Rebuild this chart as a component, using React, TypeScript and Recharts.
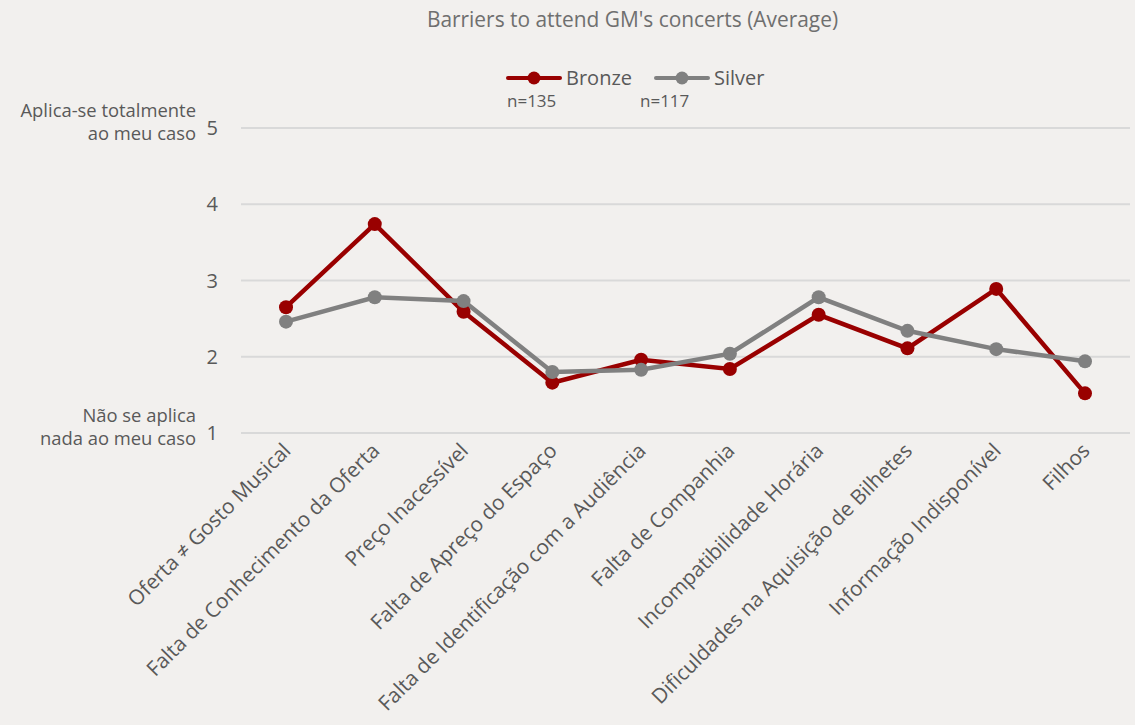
import { LineChart, Line, XAxis, YAxis, CartesianGrid } from "recharts";

const categories = [
  "Oferta ≠ Gosto Musical",
  "Falta de Conhecimento da Oferta",
  "Preço Inacessível",
  "Falta de Apreço do Espaço",
  "Falta de Identificação com a Audiência",
  "Falta de Companhia",
  "Incompatibilidade Horária",
  "Dificuldades na Aquisição de Bilhetes",
  "Informação Indisponível",
  "Filhos",
];
const bronze = [2.65, 3.74, 2.59, 1.66, 1.96, 1.84, 2.55, 2.11, 2.89, 1.52];
const silver = [2.46, 2.78, 2.73, 1.8, 1.83, 2.04, 2.78, 2.34, 2.1, 1.94];
const yTicks = [1, 2, 3, 4, 5];
const yExtra: Record<number, string[]> = {
  5: ["Aplica-se totalmente", "ao meu caso"],
  1: ["Não se aplica", "nada ao meu caso"],
};

const data = categories.map((name, i) => ({ name, bronze: bronze[i], silver: silver[i] }));

const FONT = "'Open Sans', sans-serif";
const TEXT = "#595959";
const BRONZE = "#990000";
const SILVER = "#808080";

function YTick(props: any) {
  const { x, y, payload } = props;
  const extra = yExtra[payload.value];
  return (
    <g>
      <text x={x - 15} y={y} dy={7} textAnchor="end" fill={TEXT} fontSize={20} fontFamily={FONT}>
        {payload.value}
      </text>
      {extra && (
        <text textAnchor="end" fill={TEXT} fontSize={18.4} fontFamily={FONT}>
          <tspan x={x - 37} y={y - 11}>{extra[0]}</tspan>
          <tspan x={x - 37} y={y + 12}>{extra[1]}</tspan>
        </text>
      )}
    </g>
  );
}

function XTick(props: any) {
  const { x, y, payload } = props;
  const px = x + 6;
  const py = y + 11;
  return (
    <text
      x={px}
      y={py}
      textAnchor="end"
      fill={TEXT}
      fontSize={20.7}
      fontFamily={FONT}
      transform={`rotate(-45, ${px}, ${py})`}
    >
      {payload.value}
    </text>
  );
}

function LegendMark({ color }: { color: string }) {
  return (
    <svg width={56} height={16} style={{ display: "block" }}>
      <line x1={2} y1={8} x2={54} y2={8} stroke={color} strokeWidth={4} strokeLinecap="round" />
      <circle cx={28} cy={8} r={6.5} fill={color} />
    </svg>
  );
}

export default function App() {
  return (
    <div
      style={{
        position: "absolute",
        left: 0,
        top: 0,
        width: 1135,
        height: 725,
        background: "#f2f0ee",
        fontFamily: FONT,
        color: TEXT,
      }}
    >
      <div
        style={{
          position: "absolute",
          top: 5,
          left: 0,
          width: 1265,
          textAlign: "center",
          fontSize: 20.9,
          color: "#6f6f6f",
        }}
      >
        Barriers to attend GM's concerts (Average)
      </div>
      <div style={{ position: "absolute", top: 64, left: 506, display: "flex", alignItems: "center", fontSize: 20 }}>
        <LegendMark color={BRONZE} />
        <span style={{ marginLeft: 4 }}>Bronze</span>
        <span style={{ width: 22 }} />
        <LegendMark color={SILVER} />
        <span style={{ marginLeft: 4 }}>Silver</span>
      </div>
      <div style={{ position: "absolute", top: 89, left: 507, fontSize: 17 }}>n=135</div>
      <div style={{ position: "absolute", top: 89, left: 640, fontSize: 17 }}>n=117</div>
      <LineChart
        width={1135}
        height={725}
        data={data}
        margin={{ top: 128, right: 5, left: 0, bottom: 0 }}
      >
        <CartesianGrid vertical={false} stroke="#d9d9d9" strokeWidth={2} />
        <XAxis
          dataKey="name"
          axisLine={false}
          tickLine={false}
          interval={0}
          height={292}
          padding={{ left: 45, right: 45 }}
          tick={<XTick />}
        />
        <YAxis
          domain={[1, 5]}
          ticks={yTicks}
          axisLine={false}
          tickLine={false}
          width={241}
          tick={<YTick />}
        />
        <Line
          dataKey="bronze"
          stroke={BRONZE}
          strokeWidth={4.5}
          dot={{ r: 7, fill: BRONZE, stroke: BRONZE, strokeWidth: 0 }}
          isAnimationActive={false}
        />
        <Line
          dataKey="silver"
          stroke={SILVER}
          strokeWidth={4.5}
          dot={{ r: 7, fill: SILVER, stroke: SILVER, strokeWidth: 0 }}
          isAnimationActive={false}
        />
      </LineChart>
    </div>
  );
}
